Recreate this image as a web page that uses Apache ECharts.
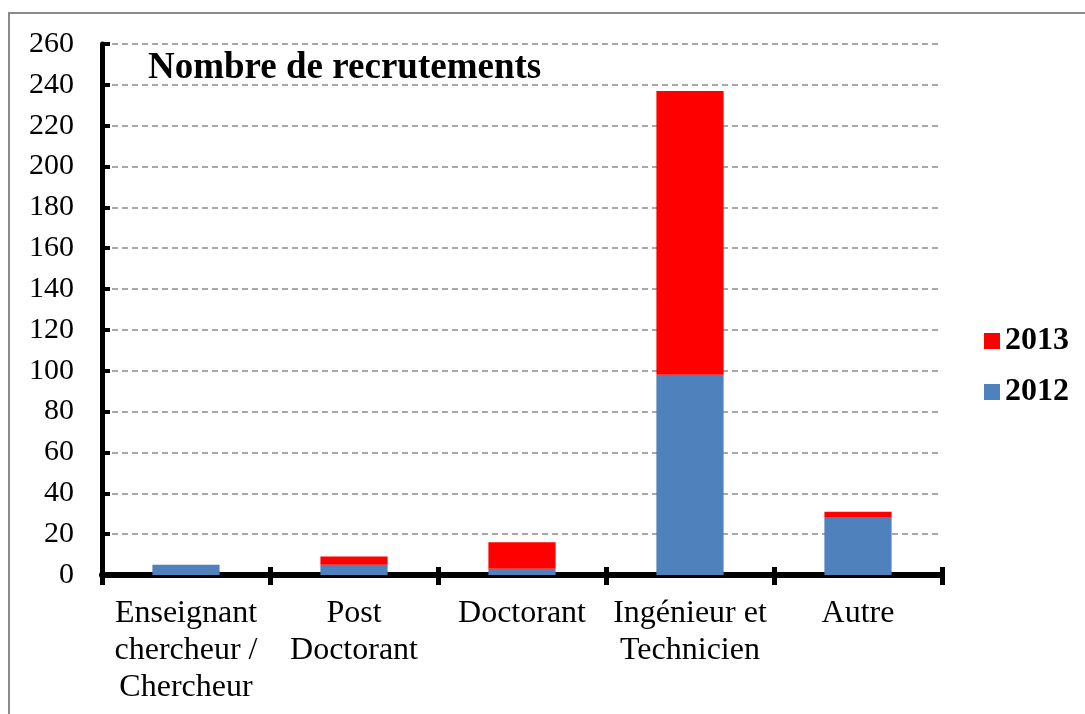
<!DOCTYPE html>
<html>
<head>
<meta charset="utf-8">
<script src="https://cdn.jsdelivr.net/npm/echarts@6/dist/echarts.min.js"></script>
<style>
  html, body { margin: 0; padding: 0; background: #fff; }
  #chart { width: 1085px; height: 714px; }
</style>
</head>
<body>
<div id="chart"></div>
<script>
// données
const categories = ['Enseignant\nchercheur /\nChercheur', 'Post\nDoctorant', 'Doctorant', 'Ingénieur et\nTechnicien', 'Autre'];
const values2012 = [5, 5, 3, 98, 28];
const values2013 = [0, 4, 13, 139, 3];
const yTicks = { min: 0, max: 260, interval: 20 };

const font = 'Liberation Serif';
const blue = '#4F81BD';
const red = '#FF0000';

const chart = echarts.init(document.getElementById('chart'));

const option = {
  animation: false,
  backgroundColor: '#fff',
  textStyle: { fontFamily: font, color: '#000' },
  title: {
    text: 'Nombre de recrutements',
    left: 148,
    top: 50,
    padding: 0,
    textStyle: { fontFamily: font, fontSize: 37, fontWeight: 'bold', color: '#000' }
  },
  legend: {
    data: ['2013', '2012'],
    orient: 'vertical',
    left: 984,
    top: 325,
    padding: 0,
    itemWidth: 16,
    itemHeight: 16,
    itemGap: 19,
    icon: 'rect',
    textStyle: { fontFamily: font, fontSize: 32, fontWeight: 'bold', color: '#000', lineHeight: 32 }
  },
  graphic: [{
    type: 'rect',
    shape: { x: 9, y: 13, width: 1100, height: 730 },
    style: { fill: 'none', stroke: '#8a8a8a', lineWidth: 2 },
    silent: true
  }],
  grid: { left: 102, right: 143, top: 44, bottom: 139 },
  xAxis: [{
    type: 'category',
    data: categories,
    axisLine: { lineStyle: { color: '#000', width: 6 } },
    axisTick: { show: true, interval: 0, length: 10, lineStyle: { color: '#000', width: 5 } },
    axisLabel: { interval: 0, margin: 20, fontFamily: font, fontSize: 32, lineHeight: 37, color: '#000' }
  }, {
    type: 'category',
    data: categories,
    position: 'bottom',
    axisLine: { show: false },
    axisTick: { show: true, inside: true, interval: 0, length: 8, lineStyle: { color: '#000', width: 5 } },
    axisLabel: { show: false }
  }],
  yAxis: {
    type: 'value',
    min: yTicks.min,
    max: yTicks.max,
    interval: yTicks.interval,
    axisLine: { show: true, lineStyle: { color: '#000', width: 5 } },
    axisTick: { show: true, inside: true, length: 8, lineStyle: { color: '#000', width: 4 } },
    axisLabel: { margin: 28, fontFamily: font, fontSize: 30, color: '#000' },
    splitLine: { show: true, lineStyle: { color: '#8c8c8c', width: 1.5, type: [6, 4] } }
  },
  series: [
    {
      name: '2012',
      type: 'bar',
      stack: 'total',
      barWidth: '40%',
      itemStyle: { color: blue },
      data: values2012
    },
    {
      name: '2013',
      type: 'bar',
      stack: 'total',
      barWidth: '40%',
      itemStyle: { color: red },
      data: values2013
    }
  ]
};

chart.setOption(option);
</script>
</body>
</html>
